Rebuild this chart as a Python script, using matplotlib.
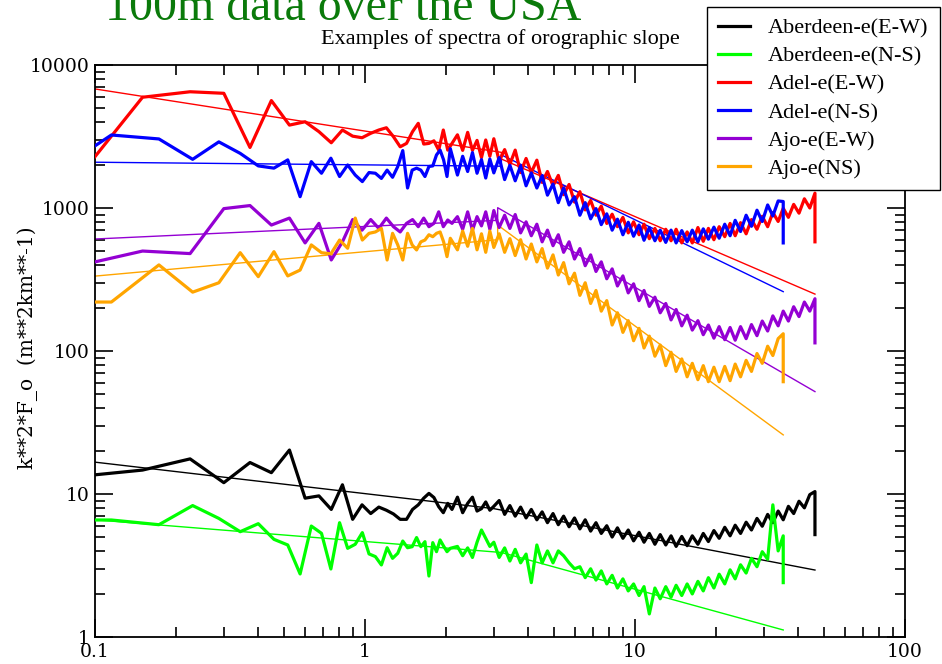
import matplotlib
matplotlib.use("Agg")
import matplotlib.pyplot as plt
import numpy as np

# wavenumber grids (km**-1): low end has two spacings, high end shared
K_A_LOW = [0.075, 0.15, 0.225, 0.3, 0.375, 0.45, 0.525, 0.6, 0.675, 0.75,
           0.825, 0.9, 0.975, 1.05, 1.125, 1.2, 1.275, 1.35, 1.425, 1.5,
           1.575, 1.65, 1.725, 1.8, 1.875, 1.95, 2.025, 2.1]
K_B_LOW = [0.0575, 0.115, 0.1725, 0.23, 0.2875, 0.345, 0.4025, 0.46, 0.5175,
           0.575, 0.6325, 0.69, 0.7475, 0.805, 0.8625, 0.92, 0.9775, 1.035,
           1.0925, 1.15, 1.2075, 1.265, 1.3225, 1.38, 1.4375, 1.495, 1.5525,
           1.61, 1.6675, 1.725, 1.7825, 1.84, 1.8975, 1.955, 2.0125, 2.07]
K_HIGH = [2.2, 2.3, 2.4, 2.5, 2.6, 2.7, 2.8, 2.9, 3.0, 3.14, 3.29, 3.44, 3.6,
          3.77, 3.95, 4.13, 4.33, 4.53, 4.74, 4.97, 5.2, 5.44, 5.7, 5.97, 6.25,
          6.54, 6.85, 7.17, 7.5, 7.86, 8.23, 8.61, 9.02, 9.44, 9.88, 10.35,
          10.8, 11.3, 11.85, 12.4, 13.0, 13.6, 14.2, 14.9, 15.6, 16.3, 17.1,
          17.9, 18.7, 19.6, 20.5, 21.5, 22.5, 23.5, 24.6, 25.8, 27.0, 28.3,
          29.6, 31.0, 32.4, 33.9, 35.4, 37.0, 38.7, 40.5, 42.4, 44.4, 46.4]

# Aberdeen-e(E-W)  (grid A)
abe_ew_low = [12.9, 14.7, 17.6, 12.0, 16.6, 14.1, 20.3, 9.35, 9.7, 7.8, 11.6,
              6.65, 8.4, 7.3, 8.1, 7.7, 7.25, 6.65, 6.65, 7.8, 8.4, 9.35, 10.1,
              9.45, 8.15, 7.4, 8.6, 7.8]
abe_ew_high = [9.5, 7.4, 8.6, 9.5, 7.6, 7.9, 8.8, 7.7, 8.2, 9.0, 7.2, 8.3, 7.0,
               8.1, 6.8, 7.8, 6.6, 7.5, 6.3, 7.3, 6.1, 7.0, 5.9, 6.8, 5.7, 6.6,
               5.5, 6.3, 5.3, 6.0, 5.0, 5.8, 4.9, 5.6, 4.7, 5.4, 4.6, 5.3, 4.45,
               5.2, 4.4, 5.1, 4.3, 5.05, 4.35, 5.1, 4.45, 5.3, 4.65, 5.55, 4.9,
               5.85, 5.1, 6.05, 5.3, 6.35, 5.6, 6.75, 5.95, 7.2, 6.3, 7.6, 6.6,
               8.2, 7.3, 8.9, 8.0, 9.9, 10.4]
# Aberdeen-e(N-S)  (grid B)
abe_ns_low = [6.58, 6.58, 6.1, 8.3, 6.75, 5.45, 6.2, 4.82, 4.4, 2.76, 5.97,
              5.31, 2.99, 6.3, 4.17, 4.45, 5.37, 3.81, 3.65, 3.19, 4.21, 3.55,
              3.85, 4.69, 4.21, 4.28, 4.96, 4.28, 4.64, 2.67, 4.57, 3.95, 4.77,
              4.32, 3.95, 4.17]
abe_ns_high = [4.3, 3.7, 4.2, 3.6, 4.6, 5.6, 4.9, 4.3, 4.6, 3.6, 4.2, 3.4, 4.1,
               3.3, 3.8, 2.4, 4.4, 3.3, 4.0, 3.3, 4.0, 3.7, 3.3, 3.0, 3.1, 2.6,
               3.0, 2.5, 2.9, 2.35, 2.7, 2.2, 2.55, 2.1, 2.35, 1.95, 2.25, 1.45,
               2.2, 1.85, 2.25, 1.9, 2.3, 1.95, 2.35, 2.0, 2.45, 2.1, 2.6, 2.2,
               2.75, 2.35, 2.95, 2.55, 3.2, 2.8, 3.55, 3.1, 3.95, 3.5, 8.4, 4.0,
               5.1]
# Adel-e(E-W)  (grid A)
adel_ew_low = [1160, 5950, 6500, 6340, 2650, 5640, 3800, 4010, 3420, 2860,
               3510, 3180, 3100, 3330, 3510, 3640, 3150, 2680, 2830, 3420, 3910,
               2800, 2830, 2950, 2540, 3510, 2540, 2830]
adel_ew_high = [3250, 2530, 3380, 2530, 2970, 2250, 2990, 2300, 3050, 2130,
                2560, 2020, 2540, 1770, 2220, 1770, 2160, 1510, 1800, 1430, 1690,
                1240, 1460, 1100, 1300, 970, 1130, 890, 1030, 780, 905, 740, 860,
                670, 800, 650, 770, 610, 720, 590, 710, 590, 710, 570, 680, 570,
                730, 585, 720, 600, 740, 630, 780, 640, 790, 660, 830, 710, 875,
                740, 930, 805, 995, 860, 1060, 920, 1160, 1000, 1270]
# Adel-e(N-S)  (grid B)
adel_ns_low = [1360, 3240, 3040, 2190, 2900, 2410, 1970, 1900, 2170, 1200,
               2110, 1750, 2230, 1660, 2000, 1700, 1530, 1770, 1750, 1610, 1840,
               1640, 1950, 2520, 1380, 1840, 1900, 1840, 1660, 1950, 1970, 2350,
               2540, 2170, 1660, 2600]
adel_ns_high = [1700, 2300, 1800, 2440, 1750, 2180, 1620, 2200, 1760, 2250,
                1580, 1990, 1550, 1970, 1430, 1760, 1380, 1680, 1230, 1470, 1090,
                1380, 1050, 1200, 890, 1090, 840, 990, 765, 910, 700, 835, 650,
                795, 635, 760, 595, 730, 590, 700, 575, 700, 570, 695, 580, 700,
                580, 715, 605, 735, 615, 770, 640, 820, 685, 890, 745, 965, 805,
                1050, 880, 1120, 1110]
# Ajo-e(E-W)  (grid A)
ajo_ew_low = [371, 500, 480, 990, 1040, 760, 850, 570, 781, 433, 580, 830, 700,
              830, 720, 850, 740, 680, 781, 830, 740, 850, 740, 781, 940, 740,
              824, 781]
ajo_ew_high = [870, 710, 940, 700, 870, 750, 940, 710, 960, 730, 890, 720, 900,
               670, 800, 640, 770, 580, 700, 545, 650, 490, 580, 440, 520, 395,
               470, 360, 420, 320, 375, 285, 335, 255, 295, 225, 265, 205, 238,
               185, 215, 165, 195, 150, 178, 140, 163, 130, 152, 123, 148, 120,
               146, 119, 148, 122, 153, 128, 162, 138, 176, 150, 190, 162, 204,
               174, 220, 190, 232]
# Ajo-e(NS)  (grid B)
ajo_ns_low = [220, 220, 400, 258, 300, 487, 331, 495, 335, 368, 552, 487, 478,
              597, 523, 850, 597, 665, 680, 720, 433, 665, 552, 433, 665, 552,
              509, 580, 597, 650, 630, 665, 680, 580, 457, 614]
ajo_ns_high = [510, 690, 540, 720, 510, 660, 490, 690, 530, 660, 490, 610, 465,
               600, 440, 560, 420, 520, 380, 470, 340, 415, 295, 350, 245, 300,
               215, 265, 190, 225, 152, 185, 135, 163, 118, 144, 105, 127, 92,
               110, 79, 98, 72, 88, 66, 82, 63, 79, 61, 77, 61, 78, 62, 81, 66,
               86, 72, 96, 82, 108, 93, 122, 132]

# last-sample drop at the end of each record
END_DROP = [5.2, 2.4, 580, 570, 114, 61]

# fitted power-law segments
FIT_K = [[0.1, 3.0, 46.4], [0.1, 3.2, 35.4], [0.1, 3.2, 3.2, 46.4],
         [0.1, 3.2, 3.2, 35.4], [0.1, 3.1, 3.1, 46.4], [0.1, 3.1, 3.1, 35.4]]
FIT_Y = [[16.7, 7.9, 2.94], [6.6, 3.9, 1.12], [6800, 2450, 2200, 250],
         [2090, 1960, 2350, 260], [607, 820, 1005, 52], [334, 600, 760, 25.9]]

LABELS = ["Aberdeen-e(E-W)", "Aberdeen-e(N-S)", "Adel-e(E-W)", "Adel-e(N-S)",
          "Ajo-e(E-W)", "Ajo-e(NS)"]
COLORS = ["#000000", "#00ff00", "#ff0000", "#0000ff", "#9400d3", "#ffa500"]

series = [(K_A_LOW, abe_ew_low, abe_ew_high), (K_B_LOW, abe_ns_low, abe_ns_high),
          (K_A_LOW, adel_ew_low, adel_ew_high), (K_B_LOW, adel_ns_low, adel_ns_high),
          (K_A_LOW, ajo_ew_low, ajo_ew_high), (K_B_LOW, ajo_ns_low, ajo_ns_high)]

plt.rcParams['font.family'] = ['Liberation Serif', 'DejaVu Serif']

fig = plt.figure(figsize=(9.42, 6.64), dpi=100)
ax = fig.add_axes([95 / 942, 1 - 637 / 664, 810 / 942, 572 / 664])

for i, (klow, ylow, yhigh) in enumerate(series):
    k = np.concatenate([klow, K_HIGH[:len(yhigh)]])
    y = np.concatenate([ylow, yhigh])
    k = np.append(k, k[-1])
    y = np.append(y, END_DROP[i])
    ax.plot(k, y, color=COLORS[i], lw=2.3, label=LABELS[i], zorder=3)
    ax.plot(FIT_K[i], FIT_Y[i], color=COLORS[i], lw=1.0, zorder=2)

ax.set_xscale('log')
ax.set_yscale('log')
ax.set_xlim(0.1, 100)
ax.set_ylim(1, 10000)
ax.set_xticks([0.1, 1, 10, 100])
ax.set_xticklabels(['0.1', '1', '10', '100'])
ax.set_yticks([1, 10, 100, 1000, 10000])
ax.set_yticklabels(['1', '10', '100', '1000', '10000'])
ax.tick_params(which='both', direction='in', top=True, right=True,
               width=1.2, labelsize=13.5)
ax.tick_params(which='major', length=13, pad=4)
ax.tick_params(which='minor', length=7)
for lab in ax.get_xticklabels() + ax.get_yticklabels():
    lab.set_family('DejaVu Serif')
for s in ax.spines.values():
    s.set_linewidth(1.3)

ax.set_title("Examples of spectra of orographic slope", fontsize=16, pad=15)
fig.text(28 / 942, 1 - 348 / 664, "k**2*F_o  (m**2km**-1)", rotation=90,
         ha='center', va='center', fontsize=14.5, family='DejaVu Serif')
fig.text(105 / 942, 1 - 20 / 664, "100m data over the USA", color='#0a7a0a',
         fontsize=34.5, ha='left', va='baseline')

leg = ax.legend(loc='upper left', bbox_to_anchor=(707 / 942, 1 - 7 / 664),
                bbox_transform=fig.transFigure, fontsize=16, frameon=True,
                fancybox=False, framealpha=1, edgecolor='black',
                handlelength=1.45, handletextpad=0.8, labelspacing=0.34,
                borderpad=0.5, borderaxespad=0,
                prop={'family': ['Liberation Serif'], 'size': 16})
leg.get_frame().set_linewidth(1.0)
leg.set_zorder(5)

fig.savefig("out.png", dpi=100)
